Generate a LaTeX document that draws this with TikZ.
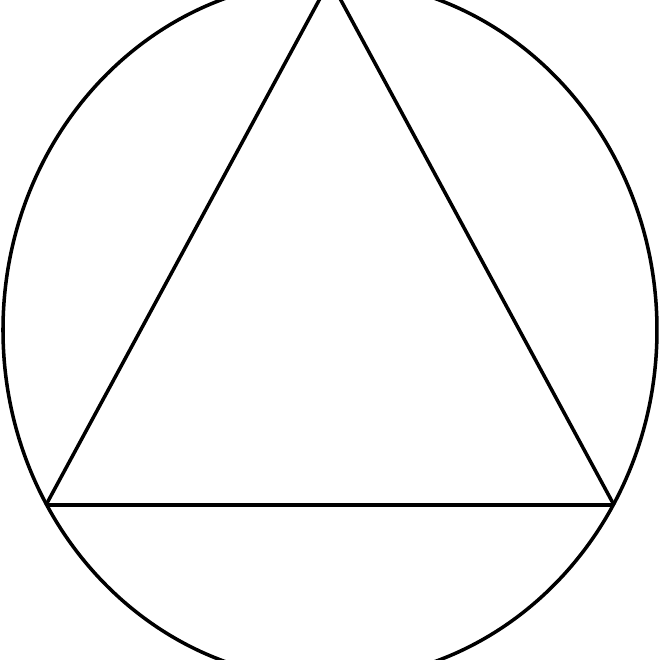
\documentclass[tikz,border=0pt]{standalone}
\begin{document}
\begin{tikzpicture}[line width=1pt]
\clip (-3.3,-3.3) rectangle (3.3,3.3);
\coordinate (O) at (0,0);
\coordinate (A) at (0,3.50);
\coordinate (B) at (-2.84,-1.75);
\coordinate (C) at (2.84,-1.75);
\draw (O) ellipse [x radius=3.27cm, y radius=3.50cm];
\draw (A) -- (B);
\draw (B) -- (C);
\draw (C) -- (A);
\end{tikzpicture}
\end{document}
